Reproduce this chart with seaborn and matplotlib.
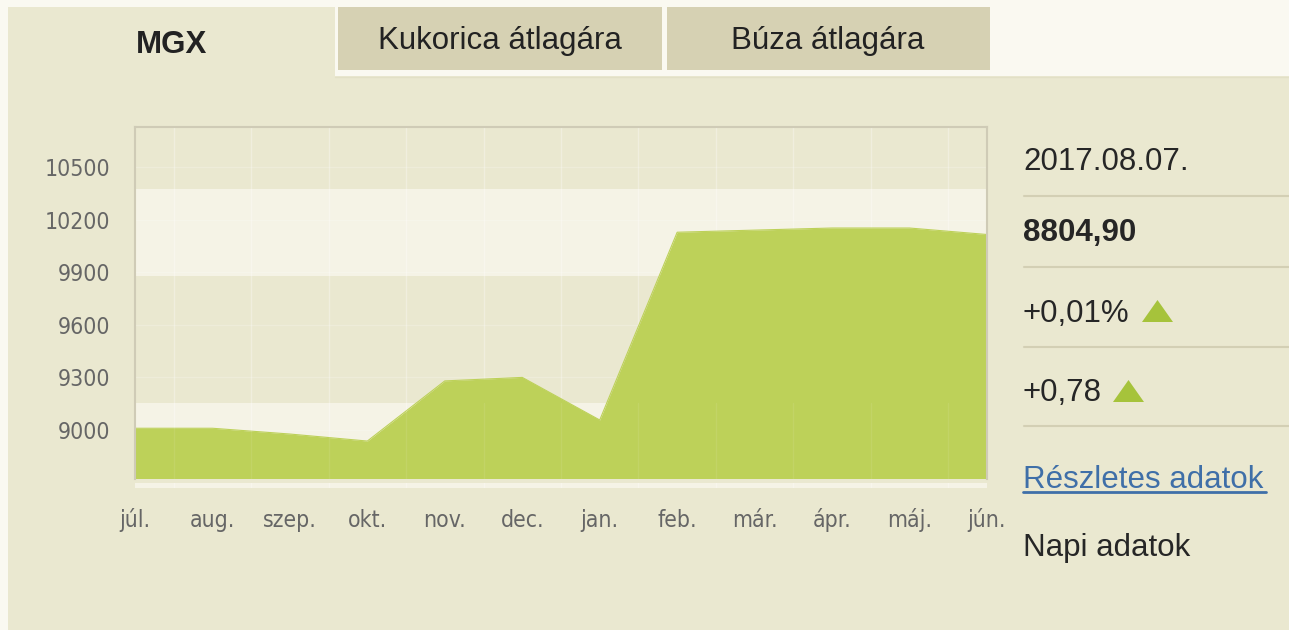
import numpy as np
import pandas as pd
import matplotlib
matplotlib.use("Agg")
import matplotlib.pyplot as plt
from matplotlib.patches import Rectangle, Polygon
from matplotlib.lines import Line2D
import seaborn as sns

# ---- data ----
months = ["júl.", "aug.", "szep.", "okt.", "nov.", "dec.", "jan.", "feb.", "már.", "ápr.", "máj.", "jún."]
values = [9010, 9010, 8977, 8937, 9280, 9300, 9057, 10128, 10140, 10152, 10152, 10115]
yticks = [9000, 9300, 9600, 9900, 10200, 10500]
tabs = ["MGX", "Kukorica átlagára", "Búza átlagára"]
info_date = "2017.08.07."
info_value = "8804,90"
info_pct = "+0,01%"
info_abs = "+0,78"
link_text = "Részletes adatok"
daily_text = "Napi adatok"

# ---- style ----
W, H = 1289, 630
PANEL = "#EAE8D0"
LIGHT = "#F5F3E6"
OUTER = "#FAF9F1"
TAB = "#D6D1B3"
FILL = "#BDD159"
TRI = "#A6C33B"
SEP = "#D3CFB4"

sns.set_style("white")
plt.rcParams["font.family"] = ["DejaVu Sans"]

fig = plt.figure(figsize=(W / 100, H / 100), dpi=100, facecolor=OUTER)


def fx(x):
    return x / W


def fy(y):
    return 1 - y / H


def frect(x0, y0, x1, y1, color, z=-10):
    fig.patches.append(Rectangle((fx(x0), fy(y1)), fx(x1) - fx(x0), fy(y0) - fy(y1),
                                 transform=fig.transFigure, facecolor=color,
                                 edgecolor="none", zorder=z))


# panel and tabs
frect(8, 76, W, H, PANEL)
frect(8, 7, 335, 77, PANEL)
frect(338, 7, 662, 70, TAB)
frect(667, 7, 990, 70, TAB)
fig.lines.append(Line2D([fx(335), fx(W)], [fy(76.5), fy(76.5)], transform=fig.transFigure,
                        color="#E2E0C6", lw=1, zorder=-9))

tab_font = dict(family="Liberation Sans", fontsize=22.5, color="#222222")
fig.text(fx(172), fy(53), tabs[0], ha="center", va="baseline", fontweight="bold", **tab_font)
fig.text(fx(500), fy(49), tabs[1], ha="center", va="baseline", **tab_font)
fig.text(fx(828), fy(49), tabs[2], ha="center", va="baseline", **tab_font)

# ---- chart ----
ax_left, ax_right, ax_top, ax_bot = 135, 987, 127, 488
ax = fig.add_axes([fx(ax_left), fy(ax_bot), fx(ax_right) - fx(ax_left), fy(ax_top) - fy(ax_bot)])
ax.set_zorder(5)
ax.set_facecolor(PANEL)

ppu = 263 / 1500.0  # pixels per unit
ylo = 9000 - (ax_bot - 430) / ppu
yhi = 9000 + (430 - ax_top) / ppu
base = 9000 - (479 - 430) / ppu
gap = 9000 - (483 - 430) / ppu

df = pd.DataFrame({"idx": np.arange(len(months)), "month": months, "value": values})

ax.axhspan(9878, 10374, color=LIGHT, zorder=0, lw=0)
ax.axhspan(ylo, 9154, color=LIGHT, zorder=0, lw=0)
for k in np.arange(0.5, len(months) - 1, 1.0):
    ax.axvline(k, color="white", alpha=0.3, lw=1, zorder=0.5)
for t in yticks:
    ax.axhline(t, color="white", alpha=0.2, lw=1, zorder=0.5)

ax.fill_between(df["idx"], base, df["value"], color=FILL, lw=0, zorder=2)
sns.lineplot(data=df, x="idx", y="value", color=FILL, lw=0.8, ax=ax, zorder=2.1)
ax.axhspan(gap, base, color=PANEL, lw=0, zorder=2.5)
for k in np.arange(0.5, len(months) - 1, 1.0):
    ax.plot([k, k], [base, 9154], color="white", alpha=0.08, lw=1, zorder=2.2)

ax.set_xlim(0, len(months) - 1)
ax.set_ylim(ylo, yhi)
ax.set_xticks(df["idx"])
ax.set_xticklabels(months)
ax.set_yticks(yticks)
ax.set_yticklabels([str(t) for t in yticks])
ax.set_xlabel("")
ax.set_ylabel("")
ax.tick_params(axis="both", length=0, labelsize=15, labelcolor="#666666")
ax.tick_params(axis="y", pad=18)
ax.tick_params(axis="x", pad=28)
for lab in ax.get_xticklabels() + ax.get_yticklabels():
    lab.set_fontstretch("condensed")
    lab.set_fontsize(16.5)
for lab in ax.get_xticklabels():
    lab.set_va("baseline")
for side in ["top", "left", "right"]:
    ax.spines[side].set_color("#CFCBB6")
    ax.spines[side].set_linewidth(1.5)
ax.spines["left"].set_bounds(base, yhi)
ax.spines["right"].set_bounds(base, yhi)
ax.spines["bottom"].set_visible(False)

# ---- info column ----
info_font = dict(family="Liberation Sans", fontsize=22.5, color="#262626", va="baseline", ha="left")
fig.text(fx(1023), fy(170), info_date, **info_font)
fig.text(fx(1023), fy(241), info_value, fontweight="bold", **info_font)
fig.text(fx(1023), fy(322), info_pct, **info_font)
fig.text(fx(1023), fy(401), info_abs, **info_font)
fig.text(fx(1023), fy(488), link_text, family="Liberation Sans", fontsize=22.5,
         color="#3F6FA8", va="baseline", ha="left")
fig.lines.append(Line2D([fx(1023), fx(1266)], [fy(492), fy(492)], transform=fig.transFigure,
                        color="#3F6FA8", lw=2))
fig.text(fx(1023), fy(556), daily_text, **info_font)

for ysep in [196, 267, 347, 426]:
    fig.lines.append(Line2D([fx(1024), fx(W)], [fy(ysep), fy(ysep)], transform=fig.transFigure,
                            color=SEP, lw=1.5))

for (x0, x1, y0, y1) in [(1142, 1173, 300, 322), (1113, 1144, 380, 402)]:
    fig.patches.append(Polygon([(fx(x0), fy(y1)), (fx(x1), fy(y1)), (fx((x0 + x1) / 2), fy(y0))],
                               closed=True, transform=fig.transFigure, facecolor=TRI,
                               edgecolor="none"))

fig.savefig("out.png", dpi=100, facecolor=fig.get_facecolor())
